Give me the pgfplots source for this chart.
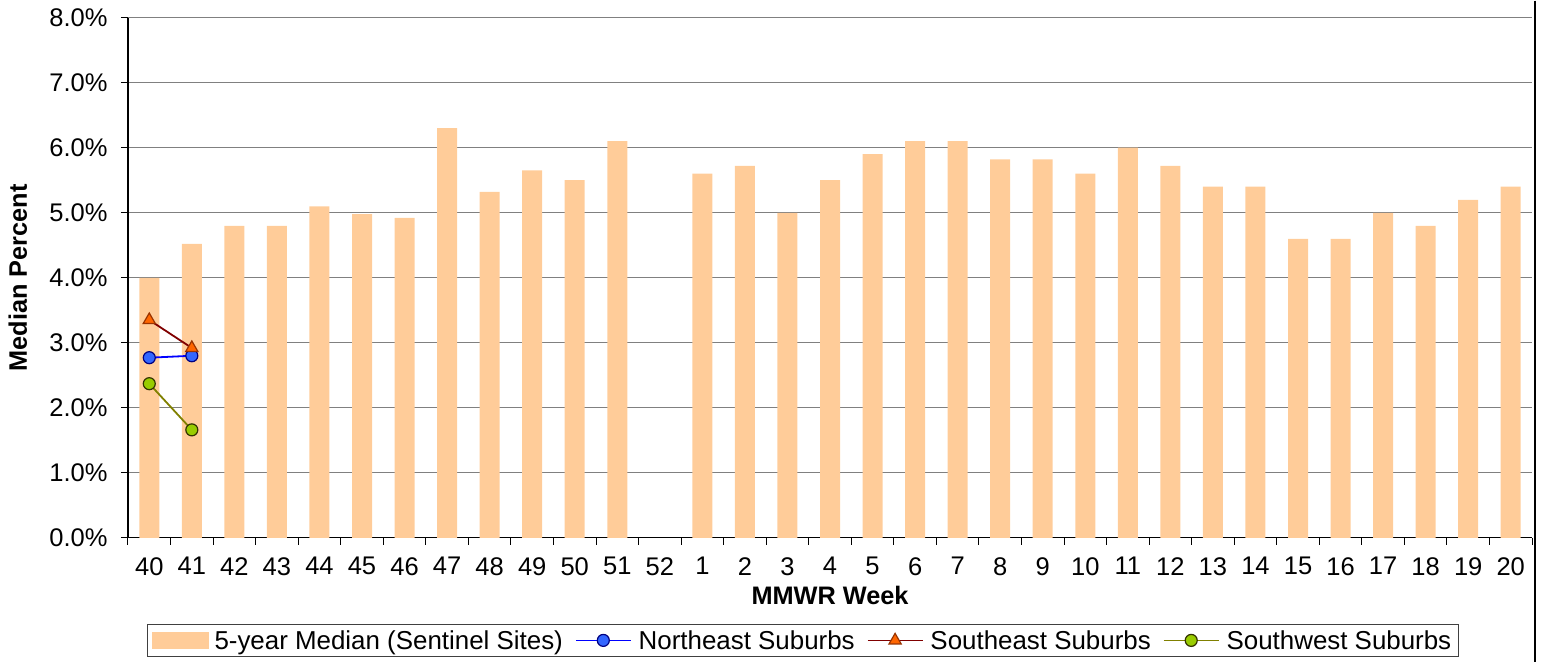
\documentclass[border=0pt]{standalone}
\usepackage{pgfplots}
\pgfplotsset{compat=1.18}
\usepackage{fontspec}
\setmainfont{Liberation Sans}
\definecolor{barc}{HTML}{FFCC99}
\definecolor{gridc}{HTML}{808080}
\definecolor{nel}{HTML}{0000FF}
\definecolor{nef}{HTML}{3366FF}
\definecolor{nee}{HTML}{000080}
\definecolor{sel}{HTML}{800000}
\definecolor{sef}{HTML}{FF6600}
\definecolor{see}{HTML}{993300}
\definecolor{swl}{HTML}{808000}
\definecolor{swf}{HTML}{99CC00}
\definecolor{swe}{HTML}{333300}
\pgfplotsset{
  lineleg/.style={legend image code/.code={\draw[##1, mark repeat=2, mark phase=2, mark size=#1] plot coordinates {(0bp,0bp) (27.5bp,0bp) (55bp,0bp)}; \path (59bp,0bp);}},
  barleg/.style={legend image code/.code={\fill[barc] (0bp,-9bp) rectangle (57bp,8bp); \path (60bp,0bp);}},
}
\begin{document}
\begin{tikzpicture}
\begin{axis}[
  scale only axis, width=1404bp, height=520bp,
  xmin=-0.5, xmax=32.5, ymin=0, ymax=8,
  axis lines*=left,
  axis line style={black, line width=1.3bp},
  ytick={0,1,...,8},
  yticklabels={0.0\%,1.0\%,2.0\%,3.0\%,4.0\%,5.0\%,6.0\%,7.0\%,8.0\%},
  ymajorgrids, grid style={gridc, line width=1.3bp},
  xtick={0,1,...,32},
  xticklabels={40,41,42,43,44,45,46,47,48,49,50,51,52,1,2,3,4,5,6,7,8,9,10,11,12,13,14,15,16,17,18,19,20},
  major x tick style={draw=none},
  minor xtick={-0.5,0.5,...,32.5},
  tick align=outside, major tick length=7bp, minor tick length=7bp,
  tick style={black, line width=1bp},
  ticklabel style={font=\fontsize{25.6}{30}\selectfont},
  xticklabel style={yshift=-9bp},
  yticklabel style={xshift=-10bp},
  every axis y label/.style={at={(axis description cs:-0.0784,0.5)}, rotate=90, anchor=center, font=\fontsize{25.4}{30}\selectfont\bfseries},
  every axis x label/.style={at={(axis description cs:0.5,-0.1115)}, anchor=center, font=\fontsize{25.4}{30}\selectfont\bfseries},
  xlabel={MMWR Week}, ylabel={Median Percent},
  legend columns=4,
  legend style={at={(axis description cs:0.01353,-0.1654)}, anchor=north west,
    draw=black!75, line width=1bp, inner xsep=4bp, inner ysep=4bp,
    font=\fontsize{26}{30}\selectfont,
    nodes={inner xsep=3bp, inner ysep=2bp},
    /tikz/every even column/.append style={column sep=9bp}},
]
\addplot[ybar, bar width=20bp, bar shift=0bp, fill=barc, draw=none, barleg]
coordinates {
(0,4.0) (1,4.52) (2,4.8) (3,4.8) (4,5.1) (5,4.98) (6,4.92) (7,6.3) (8,5.32) (9,5.65)
(10,5.5) (11,6.1) (13,5.6) (14,5.72) (15,5.0) (16,5.5) (17,5.9) (18,6.1) (19,6.1)
(20,5.82) (21,5.82) (22,5.6) (23,6.0) (24,5.72) (25,5.4) (26,5.4) (27,4.6) (28,4.6)
(29,5.0) (30,4.8) (31,5.2) (32,5.4)};
\addlegendentry{5-year Median (Sentinel Sites)}
\addplot[nel, line width=1.8bp, mark=*, mark size=6bp,
  mark options={fill=nef, draw=nee, line width=1.2bp}, lineleg=6bp]
coordinates {(0,2.77) (1,2.8)};
\addlegendentry{Northeast Suburbs}
\addplot[sel, line width=1.8bp, mark=triangle*, mark size=7bp,
  mark options={fill=sef, draw=see, line width=1.2bp}, lineleg=7bp]
coordinates {(0,3.35) (1,2.92)};
\addlegendentry{Southeast Suburbs}
\addplot[swl, line width=1.8bp, mark=*, mark size=6bp,
  mark options={fill=swf, draw=swe, line width=1.2bp}, lineleg=6bp]
coordinates {(0,2.37) (1,1.66)};
\addlegendentry{Southwest Suburbs}
\end{axis}
\path ([xshift=-128bp,yshift=-124bp]current axis.south west) rectangle ([xshift=10bp,yshift=17bp]current axis.north east);
\draw[black, line width=1.5bp] ([xshift=3bp,yshift=17bp]current axis.north east) -- ([xshift=3bp,yshift=-124bp]current axis.south east);
\end{tikzpicture}
\end{document}
